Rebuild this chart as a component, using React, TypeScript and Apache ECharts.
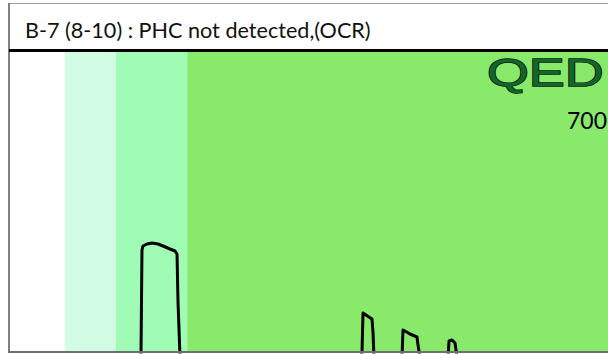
import React, { useEffect, useRef } from "react";
import * as echarts from "echarts";

const title = "B-7 (8-10) : PHC not detected,(OCR)";
const yTickLabel = "700";
const logoText = "QED";

// retention time (min) band edges
const bandEdges = [0, 1.12, 2.14, 3.57, 12];
const bandColors = ["#ffffff", "#d3fce4", "#a0fbb5", "#89e96b"];

// chromatogram trace: retention time (min)
const traceTime = [
  0, 2.644, 2.664, 2.684, 2.765, 2.865, 2.985, 3.085, 3.225, 3.326, 3.366, 3.386, 3.426,
  7.052, 7.072, 7.092, 7.152, 7.272, 7.292, 7.312,
  7.873, 7.893, 7.933, 8.033, 8.174, 8.194, 8.234,
  8.795, 8.815, 8.875, 8.935, 8.975, 12,
];
// response
const traceResponse = [
  -15, -15, 306, 318, 324, 327, 324, 318, 309, 303, 294, 150, -15,
  -15, 0, 117, 111, 99, 60, -15,
  -15, 66, 63, 54, 45, 20, -15,
  -15, 33, 36, 27, -15, -15,
];

export default function App() {
  const ref = useRef<HTMLDivElement>(null);
  useEffect(() => {
    document.body.style.margin = "0";
    const chart = echarts.init(ref.current!, null, { renderer: "svg" });
    const markData = bandColors.map((c, i) => [
      { xAxis: bandEdges[i], itemStyle: { color: c } },
      { xAxis: bandEdges[i + 1] },
    ]);
    chart.setOption({
      animation: false,
      backgroundColor: "#ffffff",
      grid: { left: 9, right: 0, top: 52, bottom: 2 },
      xAxis: { type: "value", min: 0, max: 12, show: false },
      yAxis: { type: "value", min: 0, max: 900, show: false },
      series: [
        {
          type: "line",
          data: traceTime.map((t, i) => [t, traceResponse[i]]),
          symbol: "none",
          clip: true,
          z: 5,
          lineStyle: { color: "#000000", width: 3, join: "round" },
          markArea: { silent: true, z: 1, data: markData },
        },
      ],
      graphic: [
        { type: "rect", z: 100, shape: { x: 8, y: 3, width: 600, height: 1 }, style: { fill: "#999999" } },
        { type: "rect", z: 100, shape: { x: 8, y: 3, width: 2, height: 350 }, style: { fill: "#808080" } },
        { type: "rect", z: 100, shape: { x: 8, y: 351, width: 600, height: 2 }, style: { fill: "#6f6f6f" } },
        { type: "rect", z: 100, shape: { x: 9, y: 49, width: 599, height: 3 }, style: { fill: "#000000" } },
        {
          type: "text",
          z: 100,
          x: 25,
          y: 30,
          style: {
            text: title,
            font: "21.6px Lato",
            fill: "#111111",
            verticalAlign: "middle",
          },
        },
        {
          type: "text",
          z: 100,
          x: 567,
          y: 120,
          style: { text: yTickLabel, font: "23px Lato", fill: "#000000", verticalAlign: "middle" },
        },
        {
          type: "text",
          z: 100,
          x: 487,
          y: 72,
          scaleX: 1.38,
          style: {
            text: logoText,
            font: "39px 'Liberation Sans'",
            fill: "#13652c",
            stroke: "#031a08",
            lineWidth: 1.4,
            verticalAlign: "middle",
          },
        },
      ],
    });
    return () => chart.dispose();
  }, []);
  return (
    <div
      ref={ref}
      style={{ position: "absolute", left: 0, top: 0, width: 608, height: 354 }}
    />
  );
}
